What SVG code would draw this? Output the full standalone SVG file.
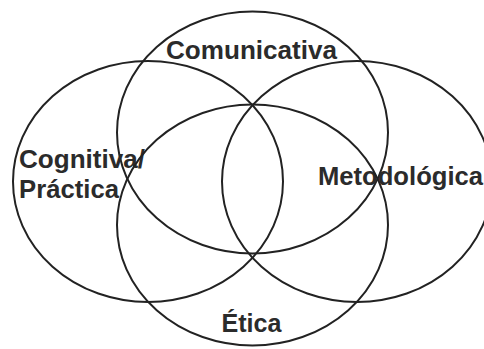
<svg xmlns="http://www.w3.org/2000/svg" width="484" height="349" viewBox="0 0 484 349">
  <style>
    .ring { fill: none; stroke: #222; stroke-width: 2; }
    .label { font-family: "Liberation Sans", Arial, sans-serif; font-weight: bold; font-size: 25px; fill: #2b2b2b; }
  </style>
  <rect width="484" height="349" fill="#fff"/>
  <!-- four overlapping competence areas -->
  <g id="comunicativa">
    <ellipse class="ring" cx="252.5" cy="132.5" rx="135.5" ry="121"/>
    <text class="label" x="251.5" y="59" text-anchor="middle" textLength="171" lengthAdjust="spacingAndGlyphs">Comunicativa</text>
  </g>
  <g id="cognitiva">
    <ellipse class="ring" cx="148" cy="181.5" rx="135" ry="120.5"/>
    <text class="label" x="19" y="168" textLength="126" lengthAdjust="spacingAndGlyphs">Cognitiva/</text>
    <text class="label" x="19" y="198" textLength="100" lengthAdjust="spacingAndGlyphs">Práctica</text>
  </g>
  <g id="metodologica">
    <ellipse class="ring" cx="357" cy="181.5" rx="135" ry="120.5"/>
    <text class="label" x="318" y="185" textLength="165" lengthAdjust="spacingAndGlyphs">Metodológica</text>
  </g>
  <g id="etica">
    <ellipse class="ring" cx="252.5" cy="225" rx="135.5" ry="120.5"/>
    <text class="label" x="251.5" y="332" text-anchor="middle" textLength="60" lengthAdjust="spacingAndGlyphs">Ética</text>
  </g>
</svg>
